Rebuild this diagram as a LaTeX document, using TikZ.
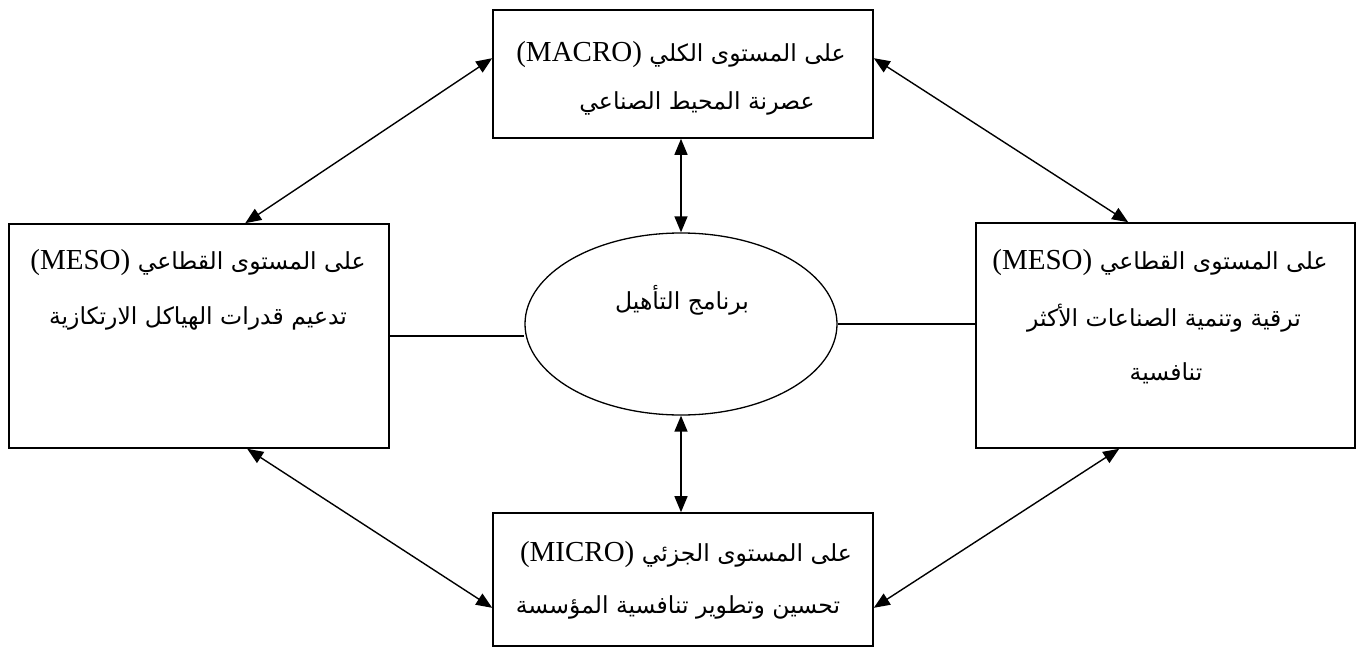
\documentclass[tikz,border=0pt]{standalone}
\usepackage{fontspec}
\setmainfont{Liberation Serif}
\newfontfamily\arabicfont[Script=Arabic]{DejaVu Sans}
\TeXXeTstate=1
\usetikzlibrary{arrows.meta,shapes.geometric}
\newcommand{\ar}[1]{\arabicfont\beginR #1\endR}
\newcommand{\arl}[2]{\arabicfont\beginR #1 {\rmfamily\fontsize{29}{32}\selectfont\beginL #2\endL}\endR}
\begin{document}
\begin{tikzpicture}[x=1pt,y=-1pt,
  box/.style={draw,line width=1.6pt,rectangle,inner sep=0pt},
  ell/.style={draw,line width=1.3pt,ellipse,inner sep=0pt,minimum width=312pt,minimum height=182pt},
  txt/.style={inner sep=0pt,font=\fontsize{23.5}{28}\selectfont},
  conn/.style={line width=1.3pt},
  dbl/.style={line width=1.4pt,{Triangle[length=16pt,width=13pt]}-{Triangle[length=16pt,width=13pt]}}]
\useasboundingbox[fill=white] (0,0) rectangle (1360,648);
% boxes
\node[box,minimum width=380pt,minimum height=128pt] (top) at (683,74) {};
\node[box,minimum width=380pt,minimum height=224pt] (left) at (199,336) {};
\node[box,minimum width=379pt,minimum height=225pt] (right) at (1165.5,335.5) {};
\node[box,minimum width=380pt,minimum height=133pt] (bottom) at (683,579.5) {};
\node[ell] (ell) at (681,324) {};
% texts
\node[txt] (ta) at (681,55) {\arl{على المستوى الكلي}{(MACRO)}};
\node[txt] (tb) at (697,103) {\ar{عصرنة المحيط الصناعي}};
\node[txt] (la) at (198,263) {\arl{على المستوى القطاعي}{(MESO)}};
\node[txt] (lb) at (198,318) {\ar{تدعيم قدرات الهياكل الارتكازية}};
\node[txt] (ra) at (1160,263) {\arl{على المستوى القطاعي}{(MESO)}};
\node[txt] (rb) at (1164,318) {\ar{ترقية وتنمية الصناعات الأكثر}};
\node[txt] (rc) at (1166,373) {\ar{تنافسية}};
\node[txt] (ba) at (686,555) {\arl{على المستوى الجزئي}{(MICRO)}};
\node[txt] (bb) at (678,607) {\ar{تحسين وتطوير تنافسية المؤسسة}};
\node[txt] (et) at (682,300) {\ar{برنامج التأهيل}};
% connectors
\draw[dbl] ([yshift=-49pt]top.north west) -- ([xshift=237pt]left.north west);
\draw[dbl] ([yshift=-49pt]top.north east) -- ([xshift=153pt]right.north west);
\draw[dbl] ([xshift=239pt]left.south west) -- ([yshift=39pt]bottom.south west);
\draw[dbl] ([xshift=144pt]right.south west) -- ([yshift=39pt]bottom.south east);
\draw[dbl] (top.south -| ell.north) -- (ell.north);
\draw[dbl] (ell.south) -- (ell.south |- bottom.north);
\draw[conn] (left.east) -- (left.east -| ell.west);
\draw[conn] (ell.east) -- (ell.east -| right.west);
\end{tikzpicture}
\end{document}
